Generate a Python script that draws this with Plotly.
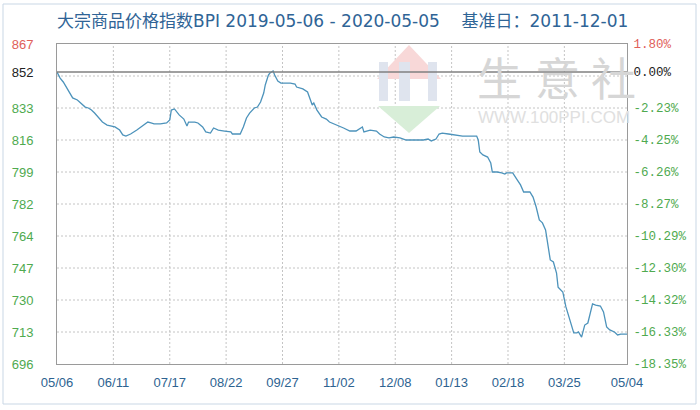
import plotly.graph_objects as go

# ---- data ----
dates = [
    "2019-05-06", "2019-05-08", "2019-05-10", "2019-05-12", "2019-05-14", "2019-05-16",
    "2019-05-19", "2019-05-21", "2019-05-24", "2019-05-26", "2019-05-28", "2019-05-30",
    "2019-06-01", "2019-06-04", "2019-06-07", "2019-06-12", "2019-06-15", "2019-06-17",
    "2019-06-19", "2019-06-22", "2019-06-26", "2019-06-29",
    "2019-07-02", "2019-07-03", "2019-07-05", "2019-07-07", "2019-07-11", "2019-07-15",
    "2019-07-17", "2019-07-18", "2019-07-20", "2019-07-23", "2019-07-26", "2019-07-28", "2019-07-29",
    "2019-08-02", "2019-08-04", "2019-08-07", "2019-08-09", "2019-08-12", "2019-08-14",
    "2019-08-17", "2019-08-21", "2019-08-25", "2019-08-26", "2019-08-31",
    "2019-09-02", "2019-09-04", "2019-09-06", "2019-09-09", "2019-09-11", "2019-09-13",
    "2019-09-15", "2019-09-16", "2019-09-18", "2019-09-19", "2019-09-21", "2019-09-22",
    "2019-09-24", "2019-09-26",
    "2019-10-02", "2019-10-05", "2019-10-06", "2019-10-10", "2019-10-13", "2019-10-15",
    "2019-10-16", "2019-10-17", "2019-10-19", "2019-10-22", "2019-10-25", "2019-10-27",
    "2019-11-01", "2019-11-05", "2019-11-09", "2019-11-13", "2019-11-17", "2019-11-18",
    "2019-11-22", "2019-11-26", "2019-11-28",
    "2019-12-01", "2019-12-04", "2019-12-07", "2019-12-11", "2019-12-15", "2019-12-26",
    "2019-12-29", "2019-12-31",
    "2020-01-03", "2020-01-05", "2020-01-07", "2020-01-11", "2020-01-16", "2020-01-20",
    "2020-01-29", "2020-01-30", "2020-01-31",
    "2020-02-02", "2020-02-05", "2020-02-07", "2020-02-08", "2020-02-11", "2020-02-14",
    "2020-02-16", "2020-02-17", "2020-02-21", "2020-02-24", "2020-02-26", "2020-02-28",
    "2020-03-03", "2020-03-05", "2020-03-07", "2020-03-09", "2020-03-11", "2020-03-13",
    "2020-03-14", "2020-03-16", "2020-03-18", "2020-03-20", "2020-03-21", "2020-03-23",
    "2020-03-24", "2020-03-26", "2020-03-29", "2020-03-31",
    "2020-04-02", "2020-04-03", "2020-04-05", "2020-04-07", "2020-04-09", "2020-04-10",
    "2020-04-12", "2020-04-14", "2020-04-17", "2020-04-19", "2020-04-21", "2020-04-23",
    "2020-04-26", "2020-04-28", "2020-04-30",
    "2020-05-04",
]
bpi = [
    852.0, 848.8, 846.7, 844.0, 840.8, 838.2,
    837.1, 835.5, 833.3, 832.8, 831.7, 830.1,
    828.0, 825.3, 823.7, 822.7, 821.0, 818.4,
    817.8, 818.9, 821.0, 822.7,
    824.8, 825.3, 824.8, 824.3, 824.3, 824.8,
    826.4, 831.7, 832.3, 829.1, 826.9, 823.2, 825.3,
    825.3, 824.8, 822.7, 820.0, 819.4, 822.1,
    821.0, 820.5, 820.0, 818.9, 818.9,
    822.7, 827.5, 830.1, 832.8, 833.3, 836.0,
    840.8, 845.1, 850.4, 851.5, 852.6, 850.4,
    847.2, 846.1,
    846.1, 845.6, 844.0, 843.0, 841.4, 837.1,
    834.4, 835.5, 831.7, 828.0, 826.9, 825.3,
    823.7, 822.1, 820.5, 820.5, 822.7, 820.0,
    821.0, 820.5, 818.9,
    817.3, 816.8, 817.3, 816.8, 815.7, 815.7,
    816.2, 815.2,
    816.2, 818.9, 819.4, 818.9, 818.4, 817.8,
    817.8, 815.7, 809.3,
    807.7, 806.6, 803.4, 798.6, 798.6, 798.1,
    797.5, 798.1, 798.1, 794.3, 791.7, 787.9,
    787.9, 785.2, 779.9, 773.0, 771.4, 767.6,
    762.3, 751.6, 750.5, 744.6, 737.1, 735.5,
    734.5, 726.5, 717.9, 712.6,
    712.6, 713.1, 710.4, 716.8, 717.9, 721.1,
    728.1, 727.5, 727.0, 723.8, 715.8, 714.2,
    713.1, 711.5, 712.0,
    712.0,
]

x_tick_dates = ["2019-05-06", "2019-06-11", "2019-07-17", "2019-08-22", "2019-09-27",
                "2019-11-02", "2019-12-08", "2020-01-13", "2020-02-18", "2020-03-25",
                "2020-05-04"]
x_tick_labels = ["05/06", "06/11", "07/17", "08/22", "09/27", "11/02", "12/08",
                 "01/13", "02/18", "03/25", "05/04"]

y_min, y_max = 696, 867
base_value = 852
y_grid_vals = [696, 713.1, 730.2, 747.3, 764.4, 781.5, 798.6, 815.7, 832.8, 849.9, 867]
y_tick_vals = [696, 713.1, 730.2, 747.3, 764.4, 781.5, 798.6, 815.7, 832.8, 852, 867]
y_left_labels = ["696", "713", "730", "747", "764", "782", "799", "816", "833", "852", "867"]
y_right_labels = ["-18.35%", "-16.33%", "-14.32%", "-12.30%", "-10.29%", "-8.27%",
                  "-6.26%", "-4.25%", "-2.23%", "0.00%", "1.80%"]
label_kinds = ["down"] * 9 + ["base", "up"]

title_text = "大宗商品价格指数BPI 2019-05-06 - 2020-05-05    基准日：2011-12-01"

# ---- styling ----
kind_color = {"down": "#4faa4f", "base": "#222222", "up": "#e0605a"}
left_text = [f"<span style='color:{kind_color[k]}'>{t}</span>"
             for t, k in zip(y_left_labels, label_kinds)]
right_text = [f"<span style='color:{kind_color[k]}'>{t}</span>"
              for t, k in zip(y_right_labels, label_kinds)]

L, R, T, B, W, H = 57, 73, 44, 46, 700, 410
PW, PH = W - L - R, H - T - B


def px(x):
    return (x - L) / PW


def py(y):
    return (H - B - y) / PH


fig = go.Figure()
fig.add_trace(go.Scatter(x=dates, y=bpi, mode="lines",
                         line=dict(color="#4d93bb", width=1.3),
                         showlegend=False, hoverinfo="x+y"))
fig.add_trace(go.Scatter(x=dates, y=bpi, yaxis="y2", mode="lines",
                         line=dict(color="rgba(0,0,0,0)", width=0),
                         showlegend=False, hoverinfo="skip"))

grid_line = dict(color="#c4c4c4", width=1, dash="2px,2px")
frame_col = "#9a9a9a"
clear = "rgba(0,0,0,0)"

# dashed grid drawn from the tick arrays (inner ones; outer ones are the frame)
grid_shapes = [
    dict(type="line", xref="x", yref="paper", x0=d, x1=d, y0=0, y1=1,
         line=grid_line, layer="below")
    for d in x_tick_dates[1:-1]
] + [
    dict(type="line", xref="paper", yref="y", x0=0, x1=1, y0=v, y1=v,
         line=grid_line, layer="below")
    for v in y_grid_vals[1:-1]
]

logo_kw = dict(xref="paper", yref="paper", line=dict(width=0), layer="below")
shapes = grid_shapes + [
    # outer light border
    dict(type="rect", xref="paper", yref="paper", x0=px(3), x1=px(696), y0=py(404), y1=py(4),
         line=dict(color="#c9d7e5", width=1), fillcolor=clear),
    # watermark logo
    dict(type="path", path=f"M {px(409)},{py(45)} L {px(441)},{py(79)} L {px(377)},{py(79)} Z",
         fillcolor="#f8d8d8", **logo_kw),
    dict(type="rect", x0=px(379), x1=px(388), y0=py(101), y1=py(62), fillcolor="#dfe4ee", **logo_kw),
    dict(type="rect", x0=px(399), x1=px(410), y0=py(101), y1=py(62), fillcolor="#dfe4ee", **logo_kw),
    dict(type="rect", x0=px(428), x1=px(437), y0=py(101), y1=py(62), fillcolor="#dfe4ee", **logo_kw),
    dict(type="path", path=f"M {px(378)},{py(106)} L {px(440)},{py(106)} L {px(409)},{py(133)} Z",
         fillcolor="#d8eed8", **logo_kw),
    # base value line (0.00%)
    dict(type="line", xref="paper", yref="y", x0=0, x1=1, y0=base_value, y1=base_value,
         line=dict(color="#808080", width=1.6)),
]

annotations = [
    dict(text=ch, xref="paper", yref="paper", x=px(cx), y=py(76), showarrow=False,
         xanchor="center", yanchor="middle",
         font=dict(family="Noto Sans CJK SC", size=45, color="#d6d6d6"))
    for ch, cx in zip(["生", "意", "社"], [499, 557, 613])
] + [
    dict(text="WWW.100PPI.COM", xref="paper", yref="paper", x=px(554), y=py(118),
         showarrow=False, xanchor="center", yanchor="middle",
         font=dict(family="Liberation Sans", size=17, color="#e0e0e0")),
]

fig.update_layout(
    width=W, height=H, autosize=False,
    margin=dict(l=L, r=R, t=T, b=B),
    paper_bgcolor="white", plot_bgcolor="white",
    title=dict(text=title_text, x=L / W, xanchor="left", y=1 - 21 / H, yanchor="middle",
               xref="container", yref="container",
               font=dict(family="DejaVu Sans, Noto Sans CJK SC", size=17, color="#2f6496")),
    xaxis=dict(type="date", range=[dates[0], dates[-1]],
               tickmode="array", tickvals=x_tick_dates, ticktext=x_tick_labels,
               showgrid=False,
               showline=True, linecolor=frame_col, linewidth=1, mirror=True,
               ticks="outside", ticklen=6, tickcolor=clear, zeroline=False,
               tickfont=dict(family="Liberation Sans", size=13, color="#2d6391")),
    yaxis=dict(range=[y_min, y_max], tickmode="array", tickvals=y_tick_vals, ticktext=left_text,
               showgrid=False, zeroline=False,
               showline=True, linecolor=frame_col, linewidth=1, mirror=True,
               ticks="outside", ticklen=20, tickcolor=clear,
               tickfont=dict(family="Liberation Sans", size=13)),
    yaxis2=dict(range=[y_min, y_max], overlaying="y", side="right",
                tickmode="array", tickvals=y_tick_vals, ticktext=right_text,
                showgrid=False, zeroline=False, showline=False,
                ticks="outside", ticklen=3, tickcolor=clear,
                tickfont=dict(family="Liberation Mono", size=12.5)),
    shapes=shapes,
    annotations=annotations,
    showlegend=False,
)

fig.write_html("out.html", config={"displayModeBar": False},
               post_script="document.body.style.margin='0';")
